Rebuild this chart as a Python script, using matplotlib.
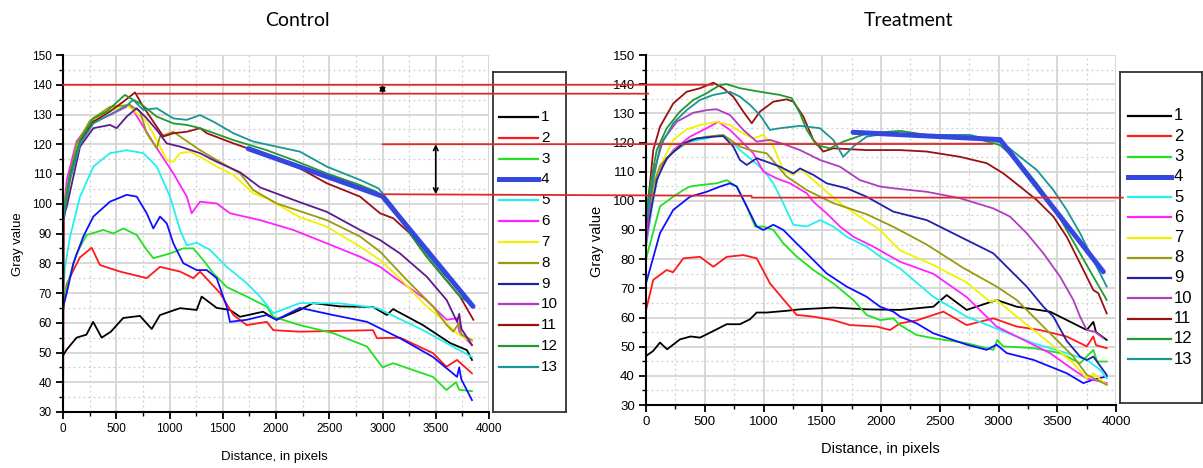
import matplotlib
matplotlib.use("Agg")
import matplotlib.pyplot as plt
from matplotlib.patches import ConnectionPatch
from matplotlib.transforms import blended_transform_factory
from matplotlib.ticker import MultipleLocator

W, H = 1203, 468

# ---- data: (distance, gray value) ----
labels = ["1", "2", "3", "4", "5", "6", "7", "8", "9", "10", "11", "12", "13"]
colors = ["#000000", "#ff1a1a", "#22e022", "#1010ff", "#22f0f0", "#ff22ff",
          "#f2f200", "#9a9a10", "#2020a8", "#b03cc0", "#9a1010", "#1f9a30",
          "#1a9494"]

c1 = [(0, 49), (35, 51), (128, 55), (220, 56), (283, 60.3), (363, 55), (450, 57),
      (565, 61.6), (723, 62.3), (833, 57.9), (911, 62.6), (1099, 64.9), (1255, 64.3),
      (1302, 68.8), (1443, 65), (1568, 64.3), (1662, 62), (1878, 63.7), (2005, 61),
      (2225, 64.3), (2347, 66.6), (2600, 65.5), (2911, 65.3), (3042, 62.6),
      (3099, 64.6), (3380, 59.2), (3634, 53.2), (3793, 50.8), (3840, 47.5)]
c2 = [(0, 64), (35, 73), (97, 77.6), (160, 82), (269, 85.2), (347, 79.4), (535, 77.2),
      (786, 75), (911, 78.8), (1099, 77.2), (1224, 75), (1287, 77.2), (1474, 70),
      (1600, 62.6), (1725, 59.2), (1913, 60.3), (1975, 57.5), (2225, 57), (2911, 57.5),
      (2948, 54.8), (3164, 55), (3474, 49.8), (3600, 45.2), (3700, 47.5), (3840, 43)]
c3 = [(0, 66), (35, 72), (128, 83.3), (222, 89.5), (379, 91.2), (472, 90), (566, 91.7),
      (692, 89.5), (786, 84.5), (848, 81.7), (1005, 83.3), (1130, 85), (1224, 85),
      (1318, 81), (1412, 76.6), (1537, 72), (1725, 68.8), (1913, 65.4), (1975, 62),
      (2225, 59.2), (2535, 56.5), (2855, 52), (3000, 45), (3100, 46.4), (3474, 41.8),
      (3600, 37.4), (3690, 40), (3720, 37.5), (3840, 37)]
c4 = [(0, 65), (35, 70), (97, 80), (191, 89), (285, 95.7), (441, 100.7), (598, 103),
      (692, 102.4), (786, 96.8), (848, 91.7), (911, 95.7), (974, 93.4), (1036, 86.7),
      (1130, 80), (1256, 77.7), (1350, 77.7), (1443, 75), (1537, 65.4), (1568, 60.3),
      (1725, 61), (1913, 62.6), (2005, 61), (2225, 65), (2535, 62.6), (2855, 60.3),
      (3164, 54.8), (3474, 48.5), (3700, 41.8), (3720, 45), (3740, 41), (3840, 34)]
c5 = [(0, 70), (19, 78.8), (66, 88.9), (160, 102.4), (285, 112.5), (441, 117),
      (598, 118), (754, 117), (880, 112.5), (1005, 102.4), (1099, 91.2), (1162, 86),
      (1256, 86.9), (1380, 84.5), (1537, 78.8), (1725, 73.3), (1850, 68.8),
      (1975, 63.2), (2225, 66.6), (2600, 66.5), (2948, 65), (3380, 57.5),
      (3634, 52.5), (3840, 48.5)]
c6 = [(0, 95), (35, 108), (128, 121), (254, 127), (441, 129.8), (629, 133.2),
      (754, 125.9), (911, 117), (1036, 110.2), (1162, 102.4), (1208, 96.8),
      (1287, 100.7), (1443, 100.1), (1568, 96.8), (1850, 94.5), (2162, 91.2),
      (2476, 86.7), (2789, 82.2), (2977, 78.8), (3102, 75.5), (3400, 68), (3603, 61),
      (3700, 61.5), (3720, 57), (3840, 52.5)]
c7 = [(0, 96), (35, 101.3), (128, 118), (254, 127.6), (410, 131), (598, 133.2),
      (692, 130.4), (786, 127.6), (911, 119.2), (974, 114.7), (1036, 114.1),
      (1099, 117), (1193, 117.5), (1287, 115.8), (1443, 112.5), (1600, 109.7),
      (1787, 103.5), (1913, 101.8), (2225, 95.5), (2476, 92.3), (2789, 85.6),
      (2977, 81.1), (3164, 74.9), (3400, 66), (3603, 59.8), (3700, 56.4), (3840, 53.6)]
c8 = [(0, 97), (35, 105), (128, 120), (254, 128), (441, 132.6), (629, 133.2),
      (723, 131), (786, 123.7), (880, 118.6), (911, 122.6), (1036, 124.2),
      (1099, 122.6), (1287, 118), (1443, 114.7), (1662, 110.2), (1787, 104.6),
      (2006, 100.1), (2225, 97.5), (2476, 94.5), (2789, 89), (2977, 83.9),
      (3227, 74.4), (3477, 65.4), (3603, 59.2), (3665, 57), (3720, 60), (3740, 56),
      (3840, 54.2)]
c10 = [(0, 95), (35, 99), (160, 119.2), (285, 125.4), (441, 126.5), (504, 125.4),
       (598, 129.3), (692, 132.1), (786, 128.7), (880, 124.8), (974, 120.3),
       (1099, 119.2), (1287, 117), (1443, 114.1), (1662, 110.6), (1850, 105.5),
       (2037, 103), (2225, 100.5), (2476, 97.3), (2789, 91.2), (2977, 87.8),
       (3164, 83.3), (3415, 75.5), (3603, 67.6), (3700, 60.3), (3720, 63), (3740, 58),
       (3840, 52.5)]
c11 = [(0, 25), (8, 94.5), (66, 109.1), (160, 120.9), (285, 127.6), (441, 131),
       (566, 134.3), (676, 137.4), (754, 132.6), (880, 125.9), (942, 122.6),
       (1036, 123.7), (1162, 124.2), (1287, 125.4), (1350, 123.7), (1600, 120.3),
       (1913, 116.4), (2225, 111.9), (2476, 106.9), (2789, 102.4), (2977, 96.8),
       (3102, 95.1), (3258, 90), (3415, 82.2), (3571, 75.5), (3728, 68.8), (3853, 61)]
c12 = [(0, 95.7), (66, 110.2), (160, 121.4), (285, 128.7), (410, 131), (582, 136.6),
       (660, 134.9), (723, 133.8), (880, 129.3), (1036, 127), (1162, 126.5),
       (1287, 125.4), (1600, 121.4), (1913, 118), (2162, 114.7), (2476, 110.2),
       (2789, 106.3), (2945, 104), (3102, 98.5), (3258, 90), (3415, 82.2),
       (3571, 75.5), (3728, 68.8), (3840, 66)]
c13 = [(0, 94), (66, 108), (160, 120), (285, 127), (441, 130), (598, 133),
       (660, 134.9), (754, 131.5), (880, 132.1), (1036, 128.7), (1162, 128.2),
       (1287, 129.8), (1412, 127.6), (1600, 123.7), (1787, 120.9), (2006, 119.2),
       (2225, 117.5), (2476, 112.5), (2789, 108), (2961, 105.2), (3102, 99),
       (3258, 91.2), (3415, 83.3), (3571, 76.6), (3697, 72), (3791, 67.6), (3837, 65.4)]
c_fit = [(1740, 118.5), (3000, 102.5), (3850, 65.5)]

t1 = [(0, 46.8), (60, 48.5), (119, 51.4), (180, 49.1), (289, 52.5), (380, 53.5),
      (460, 53.1), (545, 54.8), (687, 57.7), (800, 57.7), (885, 59.4), (942, 61.7),
      (1027, 61.7), (1197, 62.3), (1311, 62.8), (1594, 63.4), (1878, 62.8),
      (2162, 62.6), (2445, 63.7), (2559, 67.7), (2729, 62.6), (2984, 66),
      (3155, 63.7), (3438, 62), (3637, 58), (3751, 55.7), (3807, 58.5), (3830, 55),
      (3921, 52.3)]
t2 = [(0, 62.5), (62, 72.9), (176, 76.3), (230, 75.5), (318, 80.3), (460, 80.8),
      (573, 77.4), (687, 80.8), (828, 81.4), (942, 80.3), (1055, 71.7), (1197, 64.9),
      (1282, 60.9), (1424, 60.3), (1594, 59.1), (1736, 57.4), (1963, 56.9),
      (2077, 55.7), (2162, 58), (2303, 59), (2531, 62), (2729, 57.4), (2956, 59.7),
      (3155, 56.9), (3353, 55.7), (3580, 53.5), (3751, 50.1), (3807, 53.5),
      (3830, 50.5), (3921, 49.5)]
t3 = [(0, 80), (119, 98.1), (232, 101.4), (317, 103.7), (374, 104.9), (459, 105.4),
      (601, 106), (687, 107.1), (772, 104.9), (857, 98.1), (928, 91.2), (999, 91.2),
      (1084, 90), (1169, 85.4), (1282, 80.9), (1424, 76.3), (1594, 71.7), (1764, 66),
      (1878, 60.9), (1992, 59.1), (2105, 59.7), (2162, 57.4), (2303, 54),
      (2445, 52.9), (2729, 51.2), (2956, 48.9), (2990, 52.3), (3040, 50.1),
      (3296, 49.5), (3524, 47.8), (3694, 44.3), (3807, 48.9), (3840, 44.9),
      (3921, 44.9)]
t4 = [(0, 71.7), (119, 88.9), (232, 96.9), (374, 101.4), (516, 103.1), (630, 104.9),
      (715, 106), (772, 104.9), (857, 98.1), (942, 91.2), (999, 90), (1084, 91.8),
      (1169, 90), (1282, 85.4), (1368, 82), (1538, 75.1), (1708, 70.6), (1878, 67.1),
      (1992, 63.7), (2105, 62), (2162, 60.3), (2303, 58), (2445, 54.6), (2729, 50.7),
      (2899, 48.9), (2984, 50.7), (3070, 47.8), (3296, 45.5), (3580, 40.9),
      (3722, 37.5), (3807, 38.7), (3921, 39.8)]
t5 = [(0, 84), (60, 100), (119, 111.7), (232, 116.9), (374, 120.3), (516, 121.4),
      (630, 122.6), (715, 120.9), (800, 117.4), (885, 114.6), (999, 110.6),
      (1084, 106), (1169, 99.1), (1254, 91.8), (1368, 91.2), (1481, 93.4),
      (1594, 91.2), (1708, 87.7), (1878, 84.3), (1992, 80.9), (2162, 76.8),
      (2445, 67.1), (2729, 60.3), (3013, 55.7), (3296, 51.2), (3580, 47.8),
      (3751, 45.5), (3864, 42.1), (3921, 39.1)]
t6 = [(0, 85), (60, 102), (119, 110.6), (232, 117.4), (374, 122), (516, 124.9),
      (616, 127.1), (715, 124.3), (800, 120.9), (913, 116.3), (999, 110),
      (1112, 107.7), (1226, 106), (1368, 102.6), (1424, 99.7), (1538, 95.7),
      (1651, 91.2), (1764, 87.7), (1935, 84.3), (2162, 79.1), (2445, 75), (2729, 67),
      (2984, 56.9), (3155, 53.5), (3438, 47.8), (3637, 42.1), (3751, 39.1),
      (3864, 38.1), (3921, 37.5)]
t7 = [(0, 88), (34, 98), (119, 111.7), (232, 120.9), (346, 124.5), (460, 126),
      (602, 127.1), (715, 126), (800, 123.7), (913, 121.4), (998, 122.6),
      (1084, 118.6), (1169, 110.6), (1254, 108.9), (1311, 111.1), (1424, 107.1),
      (1538, 103.1), (1651, 99.2), (1821, 94.5), (1992, 90), (2162, 83), (2445, 78),
      (2729, 72), (2927, 65.4), (2984, 66), (3155, 60.3), (3438, 51.2), (3637, 44.3),
      (3751, 39.1), (3807, 40.9), (3921, 36.9)]
t8 = [(0, 90), (60, 105), (119, 112), (232, 117), (374, 120.9), (516, 122),
      (658, 122.6), (800, 118.6), (885, 117.4), (1027, 116.3), (1112, 112.3),
      (1197, 108.3), (1368, 103.7), (1594, 99.2), (1878, 95.4), (2105, 91.1),
      (2389, 85), (2700, 77), (2984, 70.6), (3155, 66), (3438, 54.6), (3637, 46.6),
      (3751, 40.4), (3864, 38.1), (3921, 36.9)]
t9 = [(0, 88), (91, 107.1), (176, 114.6), (318, 119.7), (431, 121.4), (573, 122),
      (658, 122.2), (743, 118.6), (800, 114), (857, 112.3), (942, 114.6),
      (1027, 113.4), (1141, 111.7), (1254, 109.4), (1311, 111.1), (1424, 108.9),
      (1538, 106), (1708, 104.3), (1878, 101.4), (2105, 96.3), (2389, 93.4),
      (2672, 87.7), (2956, 82), (3098, 76.3), (3240, 70.6), (3382, 63.7),
      (3467, 60.3), (3580, 52), (3694, 46.6), (3751, 45.4), (3807, 46.6), (3921, 40.3)]
t10 = [(0, 87), (62, 109.4), (147, 120.9), (261, 127.1), (403, 130.2), (516, 131.1),
       (602, 131.4), (715, 129.4), (828, 124.3), (942, 120.3), (1055, 120.9),
       (1197, 119.1), (1311, 117.4), (1481, 114), (1651, 111.7), (1821, 107.1),
       (1992, 104.9), (2105, 104.3), (2389, 103.1), (2672, 100.9), (2956, 97.4),
       (3098, 94.6), (3240, 88.9), (3382, 82), (3524, 74), (3637, 66), (3694, 60.3),
       (3751, 55.7), (3822, 55.1), (3892, 52.9)]
t11 = [(0, 92), (62, 117.4), (119, 125.4), (232, 133.4), (346, 137.4), (460, 138.6),
       (573, 140.5), (658, 138.6), (743, 135.7), (828, 130.6), (900, 126.6),
       (970, 130.6), (1084, 134), (1197, 134.8), (1254, 134), (1339, 128.9),
       (1424, 120.9), (1509, 116.9), (1594, 118), (1878, 117.4), (2162, 117.4),
       (2389, 116.9), (2672, 115.1), (2900, 112.9), (3041, 109.4), (3183, 104.9),
       (3325, 100.3), (3467, 94.6), (3580, 87.7), (3694, 78.6), (3807, 69.4),
       (3850, 68.3), (3921, 61.4)]
t12 = [(0, 95), (34, 104.9), (91, 117.4), (176, 124.9), (289, 130.6), (403, 134.6),
       (516, 136.9), (630, 139.7), (687, 140), (800, 138.6), (970, 137.4),
       (1141, 136.3), (1240, 135.2), (1311, 130), (1368, 124.3), (1453, 119.1),
       (1566, 118), (1679, 120.3), (1878, 123.1), (2162, 124), (2389, 122.6),
       (2757, 122), (3013, 119.1), (3183, 112.9), (3325, 106), (3467, 98), (3580, 90),
       (3694, 82), (3807, 74), (3921, 66)]
t13 = [(0, 92), (34, 101.4), (119, 118.6), (232, 126.6), (346, 131.1), (460, 134.6),
       (573, 136.3), (715, 137.4), (800, 135.7), (885, 132.9), (970, 129.4),
       (1055, 124.3), (1141, 124.9), (1311, 125.7), (1481, 124.9), (1594, 120.9),
       (1679, 115.1), (1764, 118.6), (1878, 122), (2048, 123.1), (2162, 122.6),
       (2389, 122.6), (2757, 122.6), (3041, 119.7), (3183, 115.1), (3325, 110.6),
       (3467, 103.7), (3580, 96.9), (3694, 88.9), (3807, 79.7), (3921, 70.6)]
t_fit = [(1762, 123.5), (3013, 121), (3892, 75.7)]

control = {"1": c1, "2": c2, "3": c3, "4": c4, "5": c5, "6": c6, "7": c7, "8": c8,
           "10": c10, "11": c11, "12": c12, "13": c13}
treatment = {"1": t1, "2": t2, "3": t3, "4": t4, "5": t5, "6": t6, "7": t7, "8": t8,
             "9": t9, "10": t10, "11": t11, "12": t12, "13": t13}
control_colors = dict(zip(labels, colors))
control_colors["10"] = "#5e1a8c"
fit_color = "#3448e0"


def fx(px):
    return px / W


def fy(py):
    return 1 - py / H


def style_axes(ax, tick_size):
    ax.set_xlim(0, 4000)
    ax.set_ylim(30, 150)
    ax.xaxis.set_major_locator(MultipleLocator(500))
    ax.xaxis.set_minor_locator(MultipleLocator(250))
    ax.yaxis.set_major_locator(MultipleLocator(10))
    ax.yaxis.set_minor_locator(MultipleLocator(5))
    ax.grid(which="major", color="#d6d6d6", lw=1.3, ls="-")
    ax.grid(which="minor", color="#cfcfcf", lw=0.9, ls=(0, (1.5, 2.5)))
    ax.set_axisbelow(True)
    for s in ("top", "right"):
        ax.spines[s].set_visible(False)
    for s in ("left", "bottom"):
        ax.spines[s].set_linewidth(1.5)
    ax.tick_params(which="major", direction="out", length=5, width=1.3,
                   labelsize=tick_size, pad=3)
    ax.tick_params(which="minor", direction="out", length=3, width=1.0)
    for lab in ax.get_xticklabels() + ax.get_yticklabels():
        lab.set_fontfamily("Liberation Sans")


def draw_series(ax, series, cols, fit):
    for key, pts in series.items():
        xs = [p[0] for p in pts]
        ys = [p[1] for p in pts]
        ax.plot(xs, ys, color=cols[key], lw=1.3)
    ax.plot([p[0] for p in fit], [p[1] for p in fit], color=fit_color, lw=3.6,
            solid_capstyle="round")


def draw_legend(fig, box, first_y, step, x0, x1, fontsize):
    lax = fig.add_axes([fx(box[0]), fy(box[3]), fx(box[2] - box[0]),
                        (box[3] - box[1]) / H])
    lax.set_xlim(box[0], box[2])
    lax.set_ylim(box[3], box[1])
    lax.set_xticks([])
    lax.set_yticks([])
    for s in lax.spines.values():
        s.set_linewidth(1.3)
        s.set_color("#333333")
    for i, (lab, col) in enumerate(zip(labels, colors)):
        yy = first_y + i * step
        lw = 3.6 if lab == "4" else 1.6
        c = fit_color if lab == "4" else col
        lax.plot([x0, x1], [yy, yy], color=c, lw=lw)
        lax.text(x1 + 3, yy, lab, va="center", ha="left", fontsize=fontsize,
                 family="Liberation Sans")


fig = plt.figure(figsize=(W / 100, H / 100), dpi=100)

ax1 = fig.add_axes([fx(63), fy(412), fx(489 - 63), (412 - 55) / H])
ax2 = fig.add_axes([fx(646), fy(405), fx(1116 - 646), (405 - 55) / H])
style_axes(ax1, 8.5)
style_axes(ax2, 9.5)
draw_series(ax1, control, control_colors, c_fit)
draw_series(ax2, treatment, dict(zip(labels, colors)), t_fit)

draw_legend(fig, (493, 72, 566, 412), 117, 20.83, 499, 538, 11)
draw_legend(fig, (1120, 72, 1202, 403), 116, 20.25, 1128, 1171, 12)

fig.text(fx(297), fy(20), "Control", ha="center", va="center", fontsize=14,
         family="Lato")
fig.text(fx(908), fy(20), "Treatment", ha="center", va="center", fontsize=14,
         family="Lato")
fig.text(fx(274), fy(457), "Distance, in pixels", ha="center", va="center",
         fontsize=9.5, family="Liberation Sans")
fig.text(fx(880), fy(449), "Distance, in pixels", ha="center", va="center",
         fontsize=10.5, family="Liberation Sans")
fig.text(fx(18), fy(244), "Gray value", ha="center", va="center", rotation=90,
         fontsize=9.5, family="Liberation Sans")
fig.text(fx(597), fy(241), "Gray value", ha="center", va="center", rotation=90,
         fontsize=10.5, family="Liberation Sans")

# red reference levels running across both panels
red = "#e02828"
to_ax2_x = blended_transform_factory(ax2.transData, ax1.transData)
for (xa, ya, xb) in [(0, 140, 570), (695, 137, 20)]:
    fig.add_artist(ConnectionPatch((xa, ya), (xb, ya), ax1.transData, to_ax2_x,
                                   color=red, lw=1.3, zorder=5))
to_ax2 = ax2.transData
fig.add_artist(ConnectionPatch((3000, 120), (2950, 119.5), ax1.transData, to_ax2,
                               color=red, lw=1.3, zorder=5))
fig.add_artist(ConnectionPatch((3000, 103.2), (900, 101.7), ax1.transData, to_ax2,
                               color=red, lw=1.3, zorder=5))
fig.add_artist(ConnectionPatch((900, 101.1), (4060, 101.1), to_ax2, to_ax2,
                               color=red, lw=1.3, zorder=5))

# arrows showing the gaps
arrow = dict(arrowstyle="<->", color="black", lw=1.2, shrinkA=0, shrinkB=0,
             mutation_scale=8)
ax1.annotate("", xy=(3000, 140), xytext=(3000, 137), arrowprops=arrow,
             annotation_clip=False)
ax1.annotate("", xy=(3500, 120), xytext=(3500, 103.2), arrowprops=arrow,
             annotation_clip=False)

fig.savefig("out.png", dpi=100)
